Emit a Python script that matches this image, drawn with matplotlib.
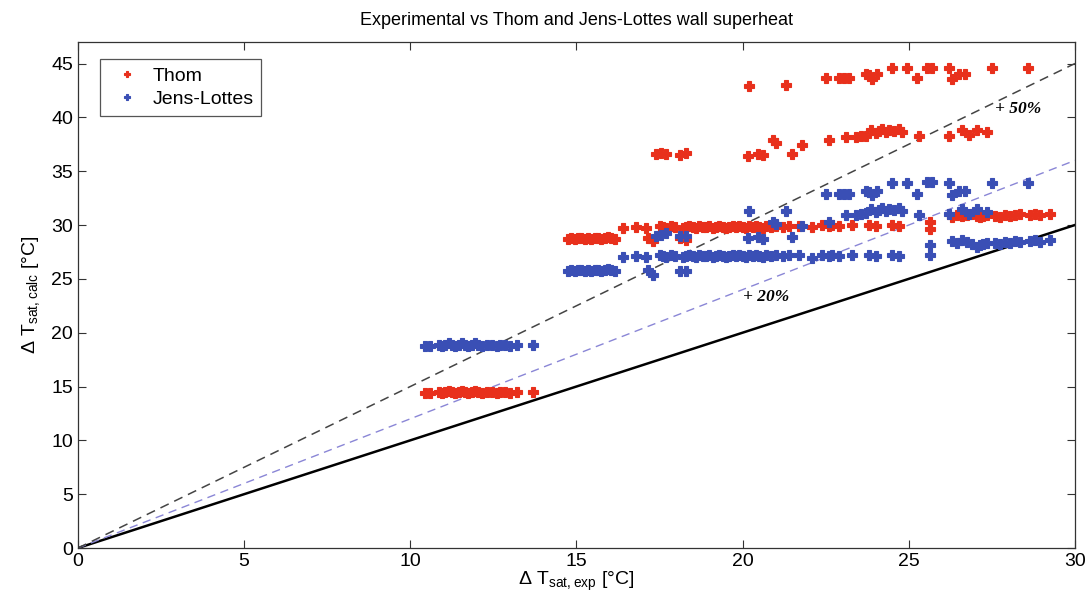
import matplotlib
matplotlib.use("Agg")
import matplotlib.pyplot as plt
import numpy as np

# cluster x positions (measured wall superheat) with the two correlations' values
x1 = [10.45, 10.6, 10.85, 10.95, 11.05, 11.15, 11.25, 11.35, 11.45, 11.55, 11.65, 11.75,
      11.85, 11.95, 12.05, 12.15, 12.3, 12.45, 12.6, 12.7, 12.85, 13.0, 13.2, 13.7]
thom1 = [14.4, 14.4, 14.5, 14.4, 14.5, 14.6, 14.5, 14.4, 14.5, 14.6, 14.5, 14.4,
         14.5, 14.6, 14.5, 14.4, 14.5, 14.5, 14.4, 14.5, 14.5, 14.4, 14.5, 14.5]
jl1 = [18.8, 18.8, 18.9, 18.8, 18.9, 19.0, 18.9, 18.8, 18.9, 19.0, 18.9, 18.8,
       18.9, 19.0, 18.9, 18.8, 18.9, 18.9, 18.8, 18.9, 18.9, 18.8, 18.9, 18.9]

x2 = [14.75, 14.85, 14.95, 15.05, 15.15, 15.25, 15.35, 15.45, 15.55, 15.65, 15.75, 15.85,
      15.95, 16.05, 16.15, 17.15, 17.3, 18.1, 18.3]
thom2 = [28.7, 28.8, 28.7, 28.8, 28.8, 28.7, 28.8, 28.7, 28.8, 28.8, 28.7, 28.8,
         28.9, 28.8, 28.7, 28.8, 28.5, 28.8, 28.6]
jl2 = [25.7, 25.8, 25.7, 25.8, 25.8, 25.7, 25.8, 25.7, 25.8, 25.8, 25.7, 25.8,
       25.9, 25.8, 25.7, 25.8, 25.4, 25.7, 25.7]

x3 = [16.4, 16.8, 17.1, 17.5, 17.6, 17.7, 17.85, 17.95, 18.2, 18.3, 18.4, 18.5, 18.6, 18.7,
      18.8, 18.9, 19.0, 19.1, 19.2, 19.3, 19.4, 19.5, 19.6, 19.7, 19.8, 19.9, 20.0, 20.1,
      20.2, 20.3, 20.4, 20.5, 20.6, 20.7, 20.85, 21.0, 21.2, 21.4, 21.7, 22.1, 22.4, 22.6,
      22.7, 22.9, 23.3, 23.8, 24.0, 24.5, 24.7, 25.65, 25.65]
thom3 = [29.7, 29.8, 29.7, 29.9, 29.8, 29.7, 29.9, 29.8, 29.7, 29.8, 29.9, 29.8, 29.7, 29.9,
         29.8, 29.8, 29.9, 29.7, 29.8, 29.9, 29.8, 29.7, 29.8, 29.9, 29.8, 29.9, 29.8, 29.7,
         29.9, 29.8, 29.9, 29.8, 29.7, 29.9, 29.8, 29.9, 29.8, 29.9, 29.9, 29.8, 30.0, 29.9,
         30.0, 29.9, 30.0, 30.0, 29.9, 30.0, 29.9, 30.3, 29.6]
jl3 = [27.0, 27.1, 27.0, 27.2, 27.1, 27.0, 27.2, 27.1, 27.0, 27.1, 27.2, 27.1, 27.0, 27.2,
       27.1, 27.1, 27.2, 27.0, 27.1, 27.2, 27.1, 27.0, 27.1, 27.2, 27.1, 27.2, 27.1, 27.0,
       27.2, 27.1, 27.2, 27.1, 27.0, 27.2, 27.1, 27.2, 27.1, 27.2, 27.2, 26.9, 27.2, 27.1,
       27.2, 27.1, 27.2, 27.2, 27.1, 27.2, 27.1, 28.1, 27.2]

x4 = [17.4, 17.55, 17.7, 18.1, 18.3, 20.15, 20.45, 20.6, 21.5]
thom4 = [36.6, 36.7, 36.6, 36.5, 36.7, 36.45, 36.6, 36.5, 36.6]
jl4 = [29.0, 29.1, 29.3, 29.0, 29.0, 28.8, 28.9, 28.7, 28.9]

x5 = [20.9, 21.0, 21.8, 22.6, 23.1, 23.4, 23.55, 23.7, 23.85, 24.0, 24.1, 24.2, 24.3, 24.4,
      24.55, 24.7, 24.8, 25.3, 26.2, 26.6, 26.8, 27.05, 27.35]
thom5 = [37.9, 37.6, 37.4, 37.9, 38.2, 38.2, 38.3, 38.3, 38.8, 38.5, 38.7, 38.9, 38.6, 38.8,
         38.7, 38.9, 38.6, 38.3, 38.3, 38.8, 38.4, 38.8, 38.6]
jl5 = [30.3, 30.1, 29.9, 30.3, 30.9, 30.9, 31.0, 31.1, 31.5, 31.2, 31.4, 31.6, 31.3, 31.5,
       31.4, 31.6, 31.3, 30.9, 31.0, 31.5, 31.0, 31.5, 31.2]

x6 = [20.2, 21.3, 22.5, 22.9, 23.05, 23.2, 23.7, 23.8, 23.9, 24.05, 24.5, 24.95, 25.25,
      25.55, 25.7, 26.2, 26.3, 26.5, 26.7, 27.5, 28.6]
thom6 = [42.9, 43.0, 43.7, 43.7, 43.7, 43.7, 44.0, 43.9, 43.6, 44.0, 44.6, 44.6, 43.7,
         44.6, 44.6, 44.6, 43.6, 44.0, 44.0, 44.6, 44.6]
jl6 = [31.3, 31.3, 32.9, 32.9, 32.9, 32.9, 33.2, 33.1, 32.8, 33.2, 33.9, 33.9, 32.9,
       34.0, 34.0, 33.9, 32.8, 33.2, 33.2, 33.9, 33.9]

x7 = [26.29, 26.44, 26.59, 26.74, 26.89, 27.04, 27.14, 27.24, 27.34, 27.59, 27.74, 27.9,
      28.05, 28.2, 28.35, 28.65, 28.8, 28.95, 29.25]
thom7 = [30.7, 30.9, 30.8, 30.9, 31.0, 30.8, 30.7, 30.8, 30.9, 30.8, 30.7, 30.9,
         30.8, 30.9, 31.0, 30.9, 31.0, 30.9, 31.0]
jl7 = [28.5, 28.3, 28.6, 28.4, 28.2, 28.0, 28.1, 28.2, 28.3, 28.3, 28.2, 28.4,
       28.3, 28.5, 28.4, 28.5, 28.6, 28.4, 28.6]

x_exp = np.concatenate([x1, x2, x3, x4, x5, x6, x7])
thom = np.concatenate([thom1, thom2, thom3, thom4, thom5, thom6, thom7])
jens_lottes = np.concatenate([jl1, jl2, jl3, jl4, jl5, jl6, jl7])

# reference lines: exact, +20 %, +50 %
x_ref = [0, 30]
factors = [1.0, 1.2, 1.5]

plt.rcParams["font.family"] = ["Liberation Sans", "DejaVu Sans"]
plt.rcParams["mathtext.fontset"] = "custom"
plt.rcParams["mathtext.rm"] = "Liberation Sans"

fig = plt.figure(figsize=(10.91, 6.11), dpi=100)
ax = fig.add_axes([0.0715, 0.1031, 0.9138, 0.8282])

ax.plot(x_ref, [factors[0] * v for v in x_ref], color="black", lw=1.8, zorder=2)
ax.plot(x_ref, [factors[1] * v for v in x_ref], color="#8a86d6", lw=1.0,
        ls=(0, (6, 4)), zorder=2)
ax.plot(x_ref, [factors[2] * v for v in x_ref], color="#444444", lw=1.1,
        ls=(0, (6, 4)), zorder=2)

ax.plot(x_exp, thom, ls="none", marker="P", ms=6.5, mew=0.8, color="#e8301c",
        mec="#e8301c", label="Thom", zorder=3)
ax.plot(x_exp, jens_lottes, ls="none", marker="P", ms=6.5, mew=0.8, color="#3a4fb5",
        mec="#3a4fb5", label="Jens-Lottes", zorder=3)

ax.text(27.6, 40.8, "+ 50%", fontsize=12.5, fontweight="bold", fontstyle="italic",
        family="Liberation Serif", va="center")
ax.text(20.0, 23.3, "+ 20%", fontsize=12.5, fontweight="bold", fontstyle="italic",
        family="Liberation Serif", va="center")

ax.set_xlim(0, 30)
ax.set_ylim(0, 47)
ax.set_xticks(range(0, 31, 5))
ax.set_yticks(range(0, 46, 5))
ax.tick_params(direction="in", top=True, right=True, length=6, labelsize=14,
               width=0.8, color="#333333")
for spine in ax.spines.values():
    spine.set_color("#333333")
    spine.set_linewidth(0.9)

ax.set_xlabel(r"$\Delta$ T$_{\mathregular{sat,exp}}$ [°C]", fontsize=14, labelpad=0)
ax.set_ylabel(r"$\Delta$ T$_{\mathregular{sat,calc}}$ [°C]", fontsize=14, labelpad=6)
ax.set_title("Experimental vs Thom and Jens-Lottes wall superheat", fontsize=13, pad=12)

leg = ax.legend(loc="upper left", bbox_to_anchor=(0.012, 0.985), fontsize=14,
                markerscale=0.6, handletextpad=0.3, borderpad=0.4, labelspacing=0.3,
                fancybox=False, framealpha=1)
leg.get_frame().set_edgecolor("#555555")
leg.get_frame().set_linewidth(0.9)

fig.savefig("out.png", dpi=100)
